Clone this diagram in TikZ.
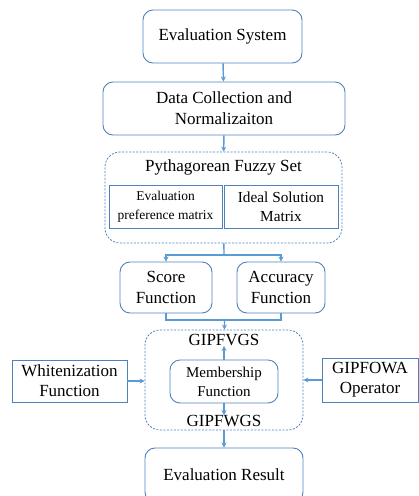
\documentclass[tikz,border=0pt]{standalone}
\usepackage{fontspec}
\setmainfont{Liberation Serif}
\usetikzlibrary{arrows.meta}

\definecolor{boxblue}{RGB}{79,129,189}
\definecolor{linkblue}{RGB}{91,155,213}

\begin{document}
\begin{tikzpicture}[x=1pt, y=-1pt,
        block/.style={rectangle, draw=boxblue, line width=0.9pt, rounded corners=10pt, align=center, inner sep=0pt, font=\fontsize{17}{21}\selectfont},
        plainbox/.style={rectangle, draw=boxblue, line width=0.9pt, align=center, inner sep=0pt, font=\fontsize{17}{20}\selectfont},
        group/.style={rectangle, draw=boxblue, dashed, dash pattern=on 2pt off 1.5pt, line width=0.8pt, rounded corners=15pt, inner sep=0pt},
        heading/.style={inner sep=0pt, font=\fontsize{17}{21}\selectfont},
        arrow/.style={draw=linkblue, line width=1.4pt, -{Stealth[length=5pt, width=5pt]}},
        link/.style={draw=linkblue, line width=1.4pt}
    ]
    \useasboundingbox (0,0) rectangle (419,496);
    \clip (0,0) rectangle (419,496);

    % Top: system and data
    \node[block, minimum width=159pt, minimum height=53pt] (evalsys) at (222.5,36.5) {Evaluation System};
    \node[block, minimum width=242pt, minimum height=53pt] (datacoll) at (224,108.5) {Data Collection and\\Normalizaiton};

    % Pythagorean fuzzy set group
    \node[group, minimum width=237pt, minimum height=91pt] (pfs) at (223.5,197.5) {};
    \node[heading] (pfstitle) at (223.5,167) {Pythagorean Fuzzy Set};
    \node[plainbox, minimum width=113pt, minimum height=43pt, font=\fontsize{13.5}{19}\selectfont] (prefmat) at (165.5,206.5) {Evaluation\\preference matrix};
    \node[plainbox, minimum width=114pt, minimum height=43pt, font=\fontsize{15.3}{19}\selectfont] (idealmat) at (281,206.5) {Ideal Solution\\Matrix};

    % Score and accuracy
    \node[block, minimum width=92pt, minimum height=51pt] (score) at (166,287.5) {Score\\Function};
    \node[block, minimum width=88pt, minimum height=51pt] (accuracy) at (281,287.5) {Accuracy\\Function};

    % Grey system group
    \node[group, minimum width=158pt, minimum height=100pt] (gipf) at (224,380) {};
    \node[heading] (gipfvgs) at (224,340) {GIPFVGS};
    \node[heading] (gipfwgs) at (224,421) {GIPFWGS};
    \node[block, minimum width=108pt, minimum height=43pt, font=\fontsize{15}{19}\selectfont] (member) at (224,381.5) {Membership\\Function};

    % Side inputs
    \node[plainbox, minimum width=115pt, minimum height=42pt] (whiten) at (69.5,381) {Whitenization\\Function};
    \node[plainbox, minimum width=96pt, minimum height=44pt] (gipfowa) at (370,380) {GIPFOWA\\Operator};

    % Bottom: result
    \node[block, minimum width=158pt, minimum height=54pt] (result) at (224,475) {Evaluation Result};

    % Split and join points
    \coordinate (split) at (224,255);
    \coordinate (join) at (224.5,320);

    % Connectors
    \draw[arrow] (evalsys) -- (datacoll);
    \draw[arrow] (datacoll) -- (pfs);
    \draw[link] (pfs) -- (split);
    \draw[arrow] (split) -| (score);
    \draw[arrow] (split) -| (accuracy);
    \draw[link] (score) |- (join);
    \draw[link] (accuracy) |- (join);
    \draw[arrow] (join) -- (gipf);
    \draw[arrow] (member) -- (gipfvgs);
    \draw[arrow] (member) -- (gipfwgs);
    \draw[arrow] (whiten) -- (gipf.west |- whiten);
    \draw[arrow] (gipfowa) -- (gipf.east |- gipfowa);
    \draw[arrow] (gipf) -- (result);

\end{tikzpicture}
\end{document}
